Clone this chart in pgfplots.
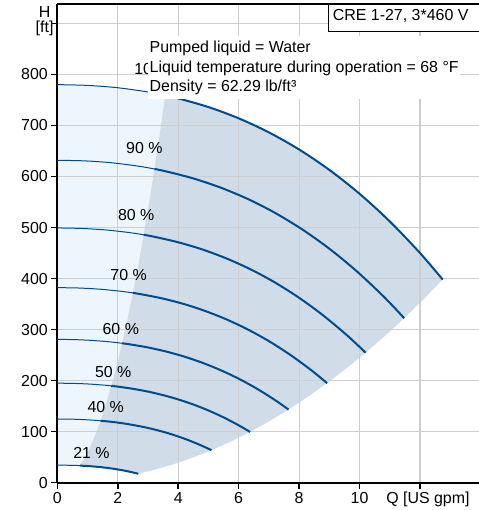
\documentclass[border=0pt]{standalone}
\usepackage{fontspec}
\setmainfont{Liberation Sans}
\usepackage{pgfplots}
\pgfplotsset{compat=1.18}
\definecolor{curve}{RGB}{0,75,140}
\definecolor{darkfill}{RGB}{208,221,233}
\definecolor{lightfill}{RGB}{237,245,253}
\definecolor{gridc}{RGB}{206,206,206}
\tikzset{lab/.style={font=\fontsize{16}{18}\selectfont, inner sep=0pt}}
\begin{document}
\begin{tikzpicture}
\begin{axis}[
  set layers,
  scale only axis, width=421.7bp, height=478.7bp,
  xmin=0, xmax=13.95, ymin=0, ymax=938,
  clip=false,
  axis x line*=bottom, axis y line*=left,
  axis line style={line width=2bp, black},
  xtick={0,2,4,6,8,10,12}, xticklabels={0,2,4,6,8,10,{}},
  ytick={0,100,200,300,400,500,600,700,800,900},
  yticklabels={0,100,200,300,400,500,600,700,800,{}},
  tick align=outside, major tick length=6bp,
  tick style={line width=1.5bp, black},
  grid=major, grid style={gridc, line width=1.2bp},
  ticklabel style={font=\fontsize{16}{18}\selectfont},
  thin curve/.style={curve, line width=1bp, smooth},
  thick curve/.style={curve, line width=2bp, smooth},
]
% light region
\addplot[fill=lightfill, draw=none, on layer=axis background] coordinates {
(0,34.4) (0,780) (1,778.5) (2,773.9) (3,765.6) (3.57,759.0)
(3.3915,685.0) (3.213,614.8) (3.0345,548.4) (2.856,485.8) (2.6775,426.9)
(2.499,371.9) (2.3205,320.7) (2.142,273.2) (1.9635,229.6) (1.785,189.8)
(1.6065,153.7) (1.428,121.4) (1.2495,93.0) (1.071,68.3) (0.8925,47.4) (0.750,33.5)
(0.63,33.8) (0.42,34.1) (0.21,34.3)} -- cycle;
% dark region
\addplot[fill=darkfill, draw=none, on layer=axis background] coordinates {
(0.750,33.5) (0.8925,47.4) (1.071,68.3) (1.2495,93.0) (1.428,121.4) (1.6065,153.7)
(1.785,189.8) (1.9635,229.6) (2.142,273.2) (2.3205,320.7) (2.499,371.9) (2.6775,426.9)
(2.856,485.8) (3.0345,548.4) (3.213,614.8) (3.3915,685.0) (3.57,759.0)
(4,753.1) (5,736.1) (6,714.0) (7,686.4) (8,652.9) (9,612.9) (10,566.1) (11,511.9)
(12,450.0) (12.75,398)
(12.1125,359.2) (11.475,322.4) (10.8375,287.6) (10.2,254.7) (9.5625,223.9)
(8.925,195.0) (8.2875,168.2) (7.65,143.3) (7.0125,120.4) (6.375,99.5) (5.7375,80.6)
(5.1,63.7) (4.4625,48.8) (3.825,35.8) (3.1875,24.9) (2.678,17.55)
(2.52,19.8) (2.31,22.6) (2.10,25.0) (1.89,27.0) (1.68,28.8) (1.47,30.3)
(1.26,31.5) (1.05,32.5) (0.84,33.2)} -- cycle;

% 100 %
\addplot[thin curve] coordinates {(0,780) (1,778.5) (2,773.9) (3,765.6) (3.57,759.0)};
\addplot[thick curve] coordinates {(3.57,759.0) (4,753.1) (5,736.1) (6,714.0) (7,686.4) (8,652.9) (9,612.9) (10,566.1) (11,511.9) (12,450.0) (12.75,398)};
% 90 %
\addplot[thin curve] coordinates {(0,631.8) (0.9,630.6) (1.8,626.9) (2.7,620.1) (3.213,614.8)};
\addplot[thick curve] coordinates {(3.213,614.8) (3.6,610.0) (4.5,596.2) (5.4,578.3) (6.3,556.0) (7.2,528.8) (8.1,496.4) (9.0,458.5) (9.9,414.6) (10.8,364.5) (11.475,322.4)};
% 80 %
\addplot[thin curve] coordinates {(0,499.2) (0.8,498.2) (1.6,495.3) (2.4,490.0) (2.856,485.8)};
\addplot[thick curve] coordinates {(2.856,485.8) (3.2,482.0) (4.0,471.1) (4.8,457.0) (5.6,439.3) (6.4,417.9) (7.2,392.3) (8.0,362.3) (8.8,327.6) (9.6,288.0) (10.2,254.7)};
% 70 %
\addplot[thin curve] coordinates {(0,382.2) (0.7,381.5) (1.4,379.2) (2.1,375.1) (2.499,371.9)};
\addplot[thick curve] coordinates {(2.499,371.9) (2.8,369.0) (3.5,360.7) (4.2,349.9) (4.9,336.3) (5.6,319.9) (6.3,300.3) (7.0,277.4) (7.7,250.8) (8.4,220.5) (8.925,195.0)};
% 60 %
\addplot[thin curve] coordinates {(0,280.8) (0.6,280.3) (1.2,278.6) (1.8,275.6) (2.142,273.2)};
\addplot[thick curve] coordinates {(2.142,273.2) (2.4,271.1) (3.0,265.0) (3.6,257.0) (4.2,247.1) (4.8,235.0) (5.4,220.6) (6.0,203.8) (6.6,184.3) (7.2,162.0) (7.65,143.3)};
% 50 %
\addplot[thin curve] coordinates {(0,195.0) (0.5,194.6) (1.0,193.5) (1.5,191.4) (1.785,189.8)};
\addplot[thick curve] coordinates {(1.785,189.8) (2.0,188.3) (2.5,184.0) (3.0,178.5) (3.5,171.6) (4.0,163.2) (4.5,153.2) (5.0,141.5) (5.5,128.0) (6.0,112.5) (6.375,99.5)};
% 40 %
\addplot[thin curve] coordinates {(0,124.8) (0.4,124.6) (0.8,123.8) (1.2,122.5) (1.428,121.4)};
\addplot[thick curve] coordinates {(1.428,121.4) (1.6,120.5) (2.0,117.8) (2.4,114.2) (2.8,109.8) (3.2,104.5) (3.6,98.1) (4.0,90.6) (4.4,81.9) (4.8,72.0) (5.1,63.7)};
% 21 %
\addplot[thin curve] coordinates {(0,34.4) (0.21,34.3) (0.42,34.1) (0.63,33.8) (0.750,33.5)};
\addplot[thick curve] coordinates {(0.750,33.5) (0.84,33.2) (1.05,32.5) (1.26,31.5) (1.47,30.3) (1.68,28.8) (1.89,27.0) (2.10,25.0) (2.31,22.6) (2.52,19.8) (2.678,17.55)};

% curve labels
\node[lab, anchor=west] at (axis cs:2.54,810) {100 \%};
\node[lab] at (axis cs:2.88,655) {90 \%};
\node[lab] at (axis cs:2.61,524) {80 \%};
\node[lab] at (axis cs:2.36,407) {70 \%};
\node[lab] at (axis cs:2.10,301) {60 \%};
\node[lab] at (axis cs:1.85,217.5) {50 \%};
\node[lab] at (axis cs:1.60,147.7) {40 \%};
\node[lab] at (axis cs:1.13,57.6) {21 \%};

% text box
\fill[white] (axis cs:3.01,751.2) rectangle (axis cs:13.32,874.6);
\node[lab, anchor=base west] at (axis cs:3.05,842.5) {Pumped liquid = Water};
\node[lab, anchor=base west] at (axis cs:3.05,804.3) {Liquid temperature during operation = 68 °F};
\node[lab, anchor=base west] at (axis cs:3.05,766.1) {Density = 62.29 lb/ft³};

% product box
\draw[fill=white, line width=1bp] (axis cs:8.965,938) rectangle (axis cs:14.2,883.6);
\node[lab, anchor=base west] at (axis cs:9.11,905.2) {CRE 1-27, 3*460 V};
\draw[line width=2bp] (rel axis cs:0,1) -- (rel axis cs:1,1);

% axis labels
\node[lab] at (axis cs:-0.42,922.2) {H};
\node[lab] at (axis cs:-0.42,890.8) {[ft]};
\node[lab, anchor=base] at (axis cs:12.26,-39.8) {Q [US gpm]};
\end{axis}
\pgfresetboundingbox
\useasboundingbox ([shift={(-57.3bp,-27.3bp)}]current axis.south west) rectangle ([shift={(0bp,4bp)}]current axis.north east);
\end{tikzpicture}
\end{document}
